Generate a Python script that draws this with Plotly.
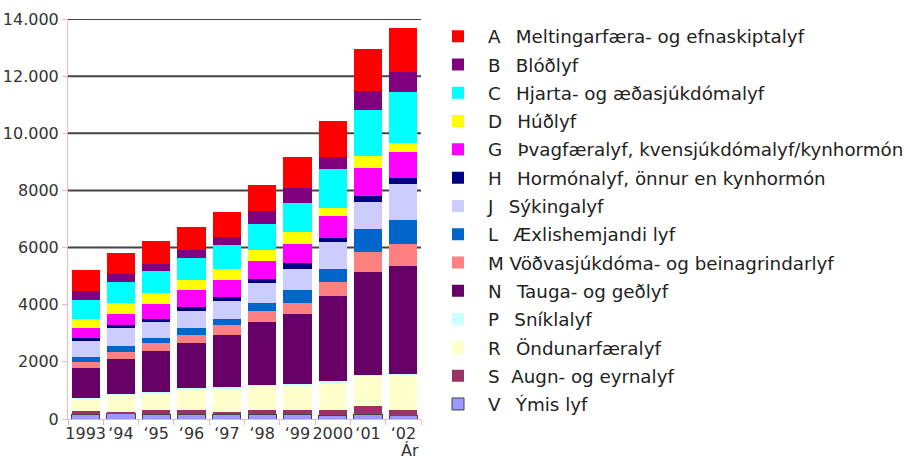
import plotly.graph_objects as go

years = ["1993", "\u201894", "\u201895", "\u201896", "\u201897", "\u201898", "\u201899", "2000", "\u201801", "\u201802"]

A = [730, 730, 800, 800, 870, 910, 1090, 1260, 1450, 1530]
B = [310, 290, 250, 280, 280, 450, 520, 420, 670, 700]
C = [660, 730, 770, 770, 840, 940, 1040, 1360, 1600, 1810]
D = [310, 380, 380, 350, 380, 380, 420, 280, 420, 310]
G = [350, 380, 520, 590, 590, 630, 660, 770, 980, 910]
H = [100, 90, 100, 140, 140, 140, 210, 170, 240, 210]
J = [560, 640, 560, 590, 630, 700, 730, 940, 940, 1250]
L = [170, 210, 170, 250, 210, 280, 450, 450, 800, 840]
M = [210, 240, 280, 270, 350, 380, 380, 490, 700, 770]
N = [1080, 1250, 1430, 1600, 1810, 2210, 2440, 2960, 3590, 3800]
P = [10, 10, 60, 70, 70, 20, 70, 70, 10, 10]
R = [420, 590, 600, 690, 800, 830, 870, 940, 1100, 1220]
S = [120, 80, 130, 140, 100, 170, 140, 190, 280, 210]
V = [170, 180, 170, 170, 160, 160, 160, 140, 160, 120]

labels = {
    "A": "A\u00a0\u00a0\u2009Meltingarfæra- og efnaskiptalyf",
    "B": "B\u00a0\u00a0\u2009Blóðlyf",
    "C": "C\u00a0\u00a0\u2009Hjarta- og æðasjúkdómalyf",
    "D": "D\u00a0\u00a0\u2009Húðlyf",
    "G": "G\u00a0\u00a0\u2009Þvagfæralyf, kvensjúkdómalyf/kynhormón",
    "H": "H\u00a0\u00a0\u2009Hormónalyf, önnur en kynhormón",
    "J": "J\u00a0\u00a0\u2009Sýkingalyf",
    "L": "L\u00a0\u00a0\u2009Æxlishemjandi lyf",
    "M": "M\u00a0Vöðvasjúkdóma- og beinagrindarlyf",
    "N": "N\u00a0\u00a0\u2009Tauga- og geðlyf",
    "P": "P\u00a0\u00a0\u2009Sníklalyf",
    "R": "R\u00a0\u00a0\u2009Öndunarfæralyf",
    "S": "S\u00a0\u00a0Augn- og eyrnalyf",
    "V": "V\u00a0\u00a0\u2009Ýmis lyf",
}

# bottom-to-top stacking order
series = [("V", V), ("S", S), ("R", R), ("P", P), ("N", N), ("M", M), ("L", L),
          ("J", J), ("H", H), ("G", G), ("D", D), ("C", C), ("B", B), ("A", A)]

colors = {
    "A": "#FF0000", "B": "#800080", "C": "#00FFFF", "D": "#FFFF00",
    "G": "#FF00FF", "H": "#000080", "J": "#CCCCFF", "L": "#0066CC",
    "M": "#FF8080", "N": "#660066", "P": "#CCFFFF", "R": "#FFFFCC",
    "S": "#993366", "V": "#9999FF",
}

ytickvals = [0, 2000, 4000, 6000, 8000, 10000, 12000, 14000]
yticktext = ["0", "2000", "4000", "6000", "8000", "10.000", "12.000", "14.000"]
grid_values = [6000, 8000, 10000, 12000, 14000]

fig = go.Figure()
n = len(series)
for i, (key, vals) in enumerate(series):
    fig.add_trace(go.Bar(
        x=years, y=vals, name=labels[key], legendgroup=key,
        legendrank=n - i,
        marker=dict(color=colors[key],
                    line=dict(color="#444444" if key == "V" else colors[key],
                              width=1 if key == "V" else 0)),
    ))

shapes = []
for gv in grid_values:
    shapes.append(dict(type="line", xref="paper", x0=0, x1=1, yref="y", y0=gv, y1=gv,
                       line=dict(color="#444444", width=2), layer="below"))

font_family = "DejaVu Sans"
fig.update_layout(
    width=910, height=456,
    margin=dict(l=68, r=489, t=19, b=37, autoexpand=False),
    barmode="stack", bargap=0.2,
    plot_bgcolor="white", paper_bgcolor="white",
    font=dict(family=font_family, size=16, color="#333333"),
    shapes=shapes,
    legend=dict(
        x=1 + 7 / 353, xanchor="left",
        y=1.003, yanchor="top",
        traceorder="grouped", tracegroupgap=1.5,
        font=dict(family=font_family, size=18.3, color="#222222"),
        itemwidth=50, bgcolor="rgba(0,0,0,0)", maxheight=456,
    ),
    xaxis=dict(
        type="category", showline=True, linecolor="#F5B5B5", linewidth=1,
        ticks="outside", tickcolor="#F5B5B5", ticklen=5, tickson="boundaries",
        tickfont=dict(size=16, color="#333333"), showgrid=False,
        tickangle=0, automargin=False,
    ),
    yaxis=dict(
        range=[0, 14000], tickvals=ytickvals, ticktext=yticktext,
        showline=True, linecolor="#F5B5B5", linewidth=1,
        ticks="outside", tickcolor="#F5B5B5", ticklen=5,
        tickfont=dict(size=16, color="#333333"), showgrid=False, zeroline=False,
        automargin=False,
    ),
    annotations=[dict(text="Ár", xref="paper", yref="paper", x=(410 - 68) / 353,
                      y=0, yshift=-31, xanchor="center", yanchor="middle",
                      showarrow=False, font=dict(size=16, color="#333333"))],
)

fig.write_html("out.html", config={"displayModeBar": False},
               post_script="document.body.style.margin='0';")
